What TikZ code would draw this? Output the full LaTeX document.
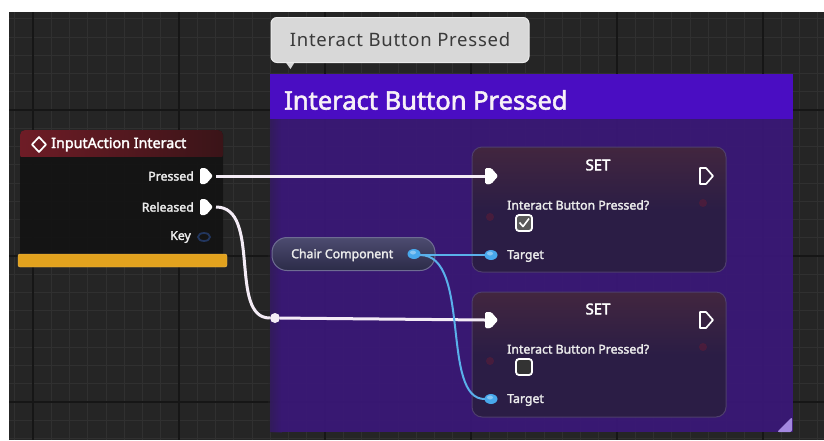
\documentclass[tikz,border=0pt]{standalone}
\usepackage{fontspec}
\setmainfont{Noto Sans}[AutoFakeBold=2.2]
\definecolor{bgdark}{HTML}{252525}
\definecolor{gridminor}{HTML}{303030}
\definecolor{gridmajor}{HTML}{161616}
\definecolor{cmthead}{HTML}{4A0DC2}
\definecolor{cmtbody}{HTML}{3A1878}
\definecolor{tipfill}{HTML}{D8D8D8}
\definecolor{tiptext}{HTML}{3A3A3A}
\definecolor{iahead}{HTML}{6E1C26}
\definecolor{iaheadr}{HTML}{3A1418}
\definecolor{iabody}{HTML}{141414}
\definecolor{keyblue}{HTML}{22365E}
\definecolor{warnbar}{HTML}{E2A21E}
\definecolor{setbody}{HTML}{2B1D45}
\definecolor{settop}{HTML}{42263F}
\definecolor{setrim}{HTML}{4E3E6C}
\definecolor{pillfill}{HTML}{37365A}
\definecolor{pilltop}{HTML}{4C4B70}
\definecolor{pillrim}{HTML}{6E6C92}
\definecolor{pinblue}{HTML}{48A8EC}
\definecolor{wireblue}{HTML}{5AB0EA}
\definecolor{wirewhite}{HTML}{F4ECF6}
\definecolor{boolred}{HTML}{8A1A2A}
\definecolor{grip}{HTML}{A488E0}
\tikzset{
  gridthin/.style={draw=gridminor, line width=0.8pt},
  gridthick/.style={draw=gridmajor, line width=1.4pt},
  pinlabel/.style={inner sep=0pt, text=white!92!black, font=\bfseries\fontsize{12.3}{12.3}\selectfont},
  settitle/.style={inner sep=0pt, text=white, font=\bfseries\fontsize{15}{15}\selectfont},
  setnode/.style={draw=setrim, line width=1pt, rounded corners=10pt, top color=settop, bottom color=setbody, middle color=setbody, minimum width=254pt, minimum height=125pt, inner sep=0pt},
  checkbox/.style={draw=white, line width=1.8pt, rounded corners=3pt, minimum size=16pt, inner sep=0pt},
  execwire/.style={draw=wirewhite, line width=3pt},
  datawire/.style={draw=wireblue, line width=2pt},
  knotdot/.style={circle, fill=wirewhite, minimum size=10pt, inner sep=0pt},
  execin/.pic={\fill[white, rounded corners=1.5pt] (-6,-8) -- (0,-8) -- (7,0) -- (0,8) -- (-6,8) -- cycle;},
  execout/.pic={\draw[white, line width=1.7pt, line join=round] (-6,-8) -- (0,-8) -- (7,0) -- (0,8) -- (-6,8) -- cycle;},
  datapin/.pic={\fill[pinblue] (0,0) ellipse (6.5pt and 5pt); \fill[white, opacity=0.35] (-1,-1.5) ellipse (3pt and 2pt);},
  boolpin/.pic={\fill[boolred, opacity=0.3] (0,0) circle (4pt);},
}
\begin{document}
\begin{tikzpicture}[x=1pt, y=-1pt]
\useasboundingbox (0,0) rectangle (824,440);
\fill[white] (0,0) rectangle (824,440);
% graph canvas with its grid
\fill[bgdark] (9,12) rectangle (824,440);
\foreach \i in {0,...,44} {
  \draw[gridthin] ({14.75+\i*18.25},12) -- ({14.75+\i*18.25},440);
}
\foreach \j in {0,...,23} {
  \draw[gridthin] (9,{18.75+\j*18.25}) -- (824,{18.75+\j*18.25});
}
\foreach \i in {0,...,5} {
  \draw[gridthick] ({33+\i*146},12) -- ({33+\i*146},440);
}
\foreach \j in {0,...,2} {
  \draw[gridthick] (9,{110+\j*146}) -- (824,{110+\j*146});
}

% comment frame
\fill[cmtbody, opacity=0.93] (270,74) rectangle (793,432);
\shade[left color=bgdark, right color=cmtbody, opacity=0.35] (268,119) rectangle (282,432);
\fill[cmthead] (270,74) rectangle (793,119);
\node[anchor=west, inner sep=0pt, text=white!94!violet, font=\bfseries\fontsize{25.5}{25.5}\selectfont] (cmttitle) at (284,100) {Interact Button Pressed};
\fill[grip, rounded corners=2pt] (792,417) -- (792,432) -- (777,432) -- cycle;

% tooltip bubble above the comment
\fill[tipfill] (284,60) -- (296,60) -- (290.5,69) -- cycle;
\node[draw=white!92!black, line width=1pt, fill=tipfill, rounded corners=6pt, minimum width=258pt, minimum height=45pt, inner sep=0pt, text=tiptext, font=\fontsize{18.5}{18.5}\selectfont\addfontfeatures{LetterSpace=4}] (tip) at (400,40) {Interact Button Pressed};

% InputAction event node
\fill[iabody, opacity=0.95, rounded corners=5pt] (20,130) rectangle (223,262);
\shade[left color=iahead, right color=iaheadr, rounded corners=5pt] (20,130) rectangle (223,160);
\fill[iabody] (20,157) rectangle (223,162);
\draw[white, line width=1.7pt, line join=round] (39,137) -- (46,144.5) -- (39,152) -- (32,144.5) -- cycle;
\node[anchor=west, inner sep=0pt, text=white, font=\bfseries\fontsize{14.3}{14.3}\selectfont] (iatitle) at (51,144.5) {InputAction Interact};
\node[pinlabel, anchor=east] (lblpressed) at (194,176) {Pressed};
\node[pinlabel, anchor=east] (lblreleased) at (194,207) {Released};
\node[pinlabel, anchor=east] (lblkey) at (191,237) {Key};
\pic at (206,176) {execin};
\pic at (206,207) {execin};
\draw[keyblue, line width=1.8pt] (204,237) ellipse (6pt and 4pt);
\node[fill=warnbar, draw=warnbar!70!white, rounded corners=2pt, minimum width=209pt, minimum height=13pt, inner sep=0pt] (iabar) at (122.5,260.5) {};
\coordinate (pressed) at (216,176);
\coordinate (released) at (216,207);

% SET nodes
\node[setnode] (set1) at (599,209.5) {};
\node[setnode] (set2) at (599,354.5) {};
\foreach \n/\dy in {set1/0, set2/144} {
  \node[settitle] (\n title) at (598,{165+\dy}) {SET};
  \pic at (491,{176+\dy}) {execin};
  \pic at (706,{176+\dy}) {execout};
  \pic at (703,{203+\dy}) {boolpin};
  \pic at (490,{217+\dy}) {boolpin};
  \node[pinlabel, anchor=west] (\n var) at (507,{205+\dy}) {Interact Button Pressed?};
  \node[pinlabel, anchor=west] (\n target) at (507,{256+\dy}) {Target};
  \coordinate (\n in) at (485,{176+\dy});
  \coordinate (\n tgt) at (485,{255+\dy});
}
\node[checkbox, fill=white!35!black] (chk1) at (524,223) {};
\draw[white, line width=1.6pt, line join=round] (519.5,222.5) -- (523,226.5) -- (529,218.5);
\node[checkbox, fill=black!80!white] (chk2) at (524,367) {};

% Chair Component getter
\node[draw=pillrim, line width=1pt, rounded corners=15pt, top color=pilltop, bottom color=pillfill!80!black, minimum width=163pt, minimum height=33pt, inner sep=0pt] (chair) at (353.5,254) {};
\node[pinlabel, anchor=west] (chairlbl) at (291,255) {Chair Component};
\coordinate (chairout) at (420,255);

% wires
\draw[execwire] (pressed) -- (set1in);
\node[knotdot] (knot) at (275,318) {};
\draw[execwire] (released) .. controls (262,207) and (228,318) .. (knot);
\draw[execwire] (knot) -- (set2in);
\draw[datawire] (chairout) -- (set1tgt);
\draw[datawire] (chairout) .. controls (472,255) and (440,400) .. (set2tgt);

% pins on top of the wires
\pic at (491,176) {execin};
\pic at (491,320) {execin};
\pic at (414,254) {datapin};
\pic at (491,255) {datapin};
\pic at (491,399) {datapin};
\end{tikzpicture}
\end{document}
